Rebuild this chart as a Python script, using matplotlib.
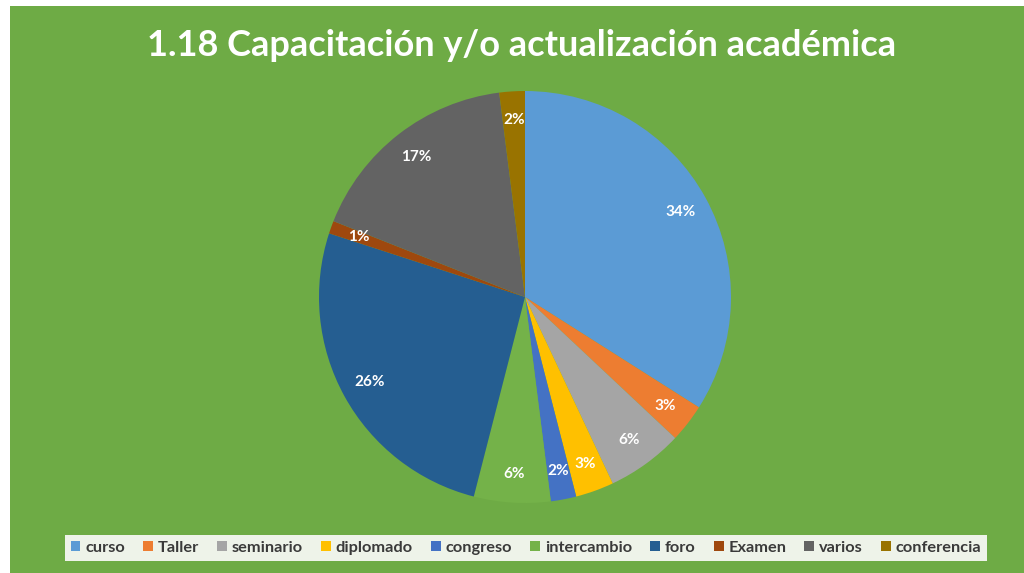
import matplotlib.pyplot as plt

categorias = ["curso", "Taller", "seminario", "diplomado", "congreso",
              "intercambio", "foro", "Examen", "varios", "conferencia"]
porcentajes = [34, 3, 6, 3, 2, 6, 26, 1, 17, 2]
colores = ["#5B9BD5", "#ED7D31", "#A5A5A5", "#FFC000", "#4472C4",
           "#74B249", "#255E91", "#9E480E", "#636363", "#997300"]
titulo = "1.18 Capacitación y/o actualización académica"

W, H = 1024, 573
fig = plt.figure(figsize=(W / 100, H / 100), dpi=100)
fig.patch.set_facecolor("white")

# green chart area behind everything
bg = fig.add_axes([10 / W, 0, 1 - 10 / W, 1 - 6 / H], zorder=-1)
bg.set_facecolor("#6EAB45")
bg.set_xticks([])
bg.set_yticks([])
for s in bg.spines.values():
    s.set_visible(False)

# pie axes: centre (525, 297) px, radius ~206 px
cx, cy, r = 525, 297, 206
ax = fig.add_axes([(cx - r) / W, 1 - (cy + r) / H, 2 * r / W, 2 * r / H])
ax.set_facecolor("none")
wedges, textos, autotextos = ax.pie(
    porcentajes, colors=colores, startangle=90, counterclock=False,
    radius=1, autopct="%1.0f%%", pctdistance=0.86,
    wedgeprops=dict(linewidth=0),
    textprops=dict(color="white", fontsize=11, fontweight="bold",
                   family="Lato"))
ax.set_xlim(-1.0, 1.0)
ax.set_ylim(-1.0, 1.0)
ax.axis("off")

fig.text(522 / W, 1 - 45 / H, titulo, ha="center", va="center",
         color="white", fontsize=26, fontweight="bold", family="Lato")

leg = fig.legend(wedges, categorias, loc="center", ncol=10,
                 bbox_to_anchor=(526 / W, 1 - 548 / H),
                 frameon=True, fancybox=False,
                 handlelength=0.6, handleheight=0.6, handletextpad=0.3,
                 columnspacing=1.1, borderpad=0.35,
                 prop=dict(family="Lato", weight="bold", size=11.8))
leg.get_frame().set_facecolor("#EEF3E9")
leg.get_frame().set_edgecolor("none")
leg.get_frame().set_alpha(1)
for t in leg.get_texts():
    t.set_color("#3A3A3A")

fig.savefig("out.png", dpi=100, facecolor=fig.get_facecolor())
